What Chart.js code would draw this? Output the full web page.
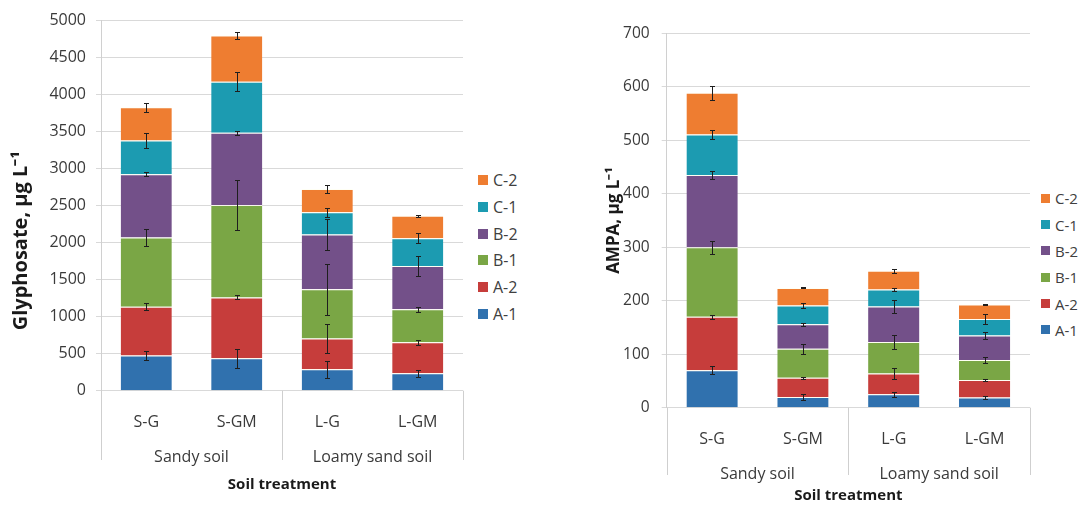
<!DOCTYPE html>
<html>
<head>
<meta charset="utf-8">
<script src="https://cdn.jsdelivr.net/npm/chart.js@4.4.1/dist/chart.umd.min.js"></script>
<style>
  html, body { margin: 0; padding: 0; background: #fff; }
  body { width: 1083px; height: 505px; position: relative; overflow: hidden; font-family: "Open Sans", sans-serif; }
  canvas { position: absolute; top: 0; }
  .legend { position: absolute; margin: 0; padding: 0; list-style: none; color: #404040; }
  .legend li { position: absolute; left: 0; display: flex; align-items: center; white-space: nowrap; transform: translateY(-50%); }
  .legend .sw { display: inline-block; margin-right: 5px; }
</style>
</head>
<body>
<canvas id="glyCanvas" width="470" height="505" style="left:0"></canvas>
<canvas id="ampaCanvas" width="436" height="505" style="left:600px"></canvas>
<ul class="legend" id="glyLegend" style="left:478px; top:0"></ul>
<ul class="legend" id="ampaLegend" style="left:1041px; top:0"></ul>

<script>
// ---- data ----
const categories = ['S-G', 'S-GM', 'L-G', 'L-GM'];
const soilGroups = ['Sandy soil', 'Loamy sand soil'];
const seriesNames = ['A-1', 'A-2', 'B-1', 'B-2', 'C-1', 'C-2'];
const seriesColors = ['#3071AE', '#C63D3B', '#7AA645', '#735089', '#1C9BB1', '#EE7D31'];

// Glyphosate (µg/L), contribution of each layer
const glyA1 = [475, 440, 290, 235];
const glyA2 = [660, 820, 415, 420];
const glyB1 = [935, 1250, 665, 445];
const glyB2 = [855, 975, 740, 585];
const glyC1 = [455, 690, 300, 375];
const glyC2 = [450, 625, 315, 305];
// standard deviations
const glyA1Err = [60, 130, 112, 49];
const glyA2Err = [45, 27, 193, 36];
const glyB1Err = [112, 332, 341, 31];
const glyB2Err = [29, 25, 213, 139];
const glyC1Err = [103, 130, 65, 70];
const glyC2Err = [59, 52, 54, 15];

// AMPA (µg/L)
const ampaA1 = [70, 20, 25, 19];
const ampaA2 = [100, 36, 39, 33];
const ampaB1 = [130, 54, 59, 37];
const ampaB2 = [135, 46, 66, 46];
const ampaC1 = [76, 35, 32, 31];
const ampaC2 = [78, 33, 35, 27];
const ampaA1Err = [7.5, 5, 4.7, 3.4];
const ampaA2Err = [4, 2, 11, 2.5];
const ampaB1Err = [12, 10, 13, 5];
const ampaB2Err = [7, 3, 12.5, 6];
const ampaC1Err = [9, 4.4, 3.7, 8.7];
const ampaC2Err = [13, 1, 3.7, 1.5];

const glyTicksMax = 5000, glyStep = 500;
const ampaTicksMax = 700, ampaStep = 100;

// ---- plugins ----
// error bars on top of each stacked segment
const errorBars = {
  id: 'errorBars',
  afterDatasetsDraw(chart, args, opts) {
    const ctx = chart.ctx, y = chart.scales.y;
    const sets = chart.data.datasets;
    ctx.save();
    ctx.strokeStyle = opts.color;
    ctx.lineWidth = 1;
    sets.forEach((ds, i) => {
      const meta = chart.getDatasetMeta(i);
      ds.data.forEach((v, j) => {
        let top = 0;
        for (let k = 0; k <= i; k++) top += sets[k].data[j];
        const e = ds.errors[j];
        const xc = Math.round(meta.data[j].x) + 0.5;
        const yLo = Math.round(y.getPixelForValue(top - e)) + 0.5;
        const yHi = Math.round(y.getPixelForValue(top + e)) + 0.5;
        ctx.beginPath();
        ctx.moveTo(xc, yLo); ctx.lineTo(xc, yHi);
        ctx.moveTo(xc - opts.cap, yLo); ctx.lineTo(xc + opts.cap, yLo);
        ctx.moveTo(xc - opts.cap, yHi); ctx.lineTo(xc + opts.cap, yHi);
        ctx.stroke();
      });
    });
    ctx.restore();
  }
};

// vertical dividers between the soil groups under the plot
const groupDividers = {
  id: 'groupDividers',
  afterDraw(chart, args, opts) {
    const g = chart.scales.x2, ctx = chart.ctx;
    const n = g.getLabels().length;
    const edges = [g.left];
    for (let i = 0; i < n - 1; i++) edges.push((g.getPixelForValue(i) + g.getPixelForValue(i + 1)) / 2);
    edges.push(g.right);
    ctx.save();
    ctx.strokeStyle = opts.color;
    ctx.lineWidth = 1;
    edges.forEach(px => {
      const xx = Math.round(px) + 0.5;
      ctx.beginPath();
      ctx.moveTo(xx, chart.chartArea.bottom);
      ctx.lineTo(xx, g.top + opts.depth);
      ctx.stroke();
    });
    ctx.restore();
  }
};

Chart.defaults.font.family = '"Open Sans", sans-serif';
Chart.defaults.color = '#3a3a3a';

function buildChart(canvasId, values, errors, geom) {
  const datasets = seriesNames.map((name, i) => ({
    label: name,
    data: values[i],
    errors: errors[i],
    backgroundColor: seriesColors[i],
    borderColor: 'rgba(255,255,240,0.75)',
    borderWidth: { top: 1, right: 0, bottom: 0, left: 0 },
    borderSkipped: false,
    barPercentage: 0.565,
    categoryPercentage: 1
  }));
  return new Chart(document.getElementById(canvasId), {
    type: 'bar',
    data: { labels: categories, datasets },
    options: {
      responsive: false,
      animation: false,
      layout: { padding: { top: geom.top, right: geom.right, bottom: 0, left: 0 } },
      plugins: {
        legend: { display: false },
        tooltip: { enabled: false },
        errorBars: { color: '#1e1e1e', cap: 2.5 },
        groupDividers: { color: '#cfcfcf', depth: geom.dividerDepth }
      },
      scales: {
        y: {
          stacked: true,
          min: 0,
          max: geom.max,
          ticks: {
            stepSize: geom.step,
            padding: geom.tickPad,
            font: { size: geom.tickSize },
            callback: v => String(v)
          },
          grid: { color: '#d9d9d9', tickLength: 5, drawTicks: true },
          border: { display: true, color: '#d0d0d0' },
          title: {
            display: true,
            text: geom.yTitle,
            color: '#1a1a1a',
            font: { size: geom.yTitleSize, weight: 'bold' },
            padding: { top: geom.yTitlePad, bottom: 0 }
          },
          afterFit(s) { s.width = geom.yWidth; }
        },
        x: {
          stacked: true,
          grid: { display: false },
          border: { display: false },
          ticks: { padding: geom.catPad, font: { size: 16 }, maxRotation: 0 },
          afterFit(s) { s.height = geom.catHeight; }
        },
        x2: {
          type: 'category',
          position: 'bottom',
          labels: soilGroups,
          offset: true,
          grid: { display: false },
          border: { display: false },
          ticks: { padding: geom.groupPad, font: { size: 16 }, maxRotation: 0 },
          title: {
            display: true,
            text: 'Soil treatment',
            color: '#1a1a1a',
            font: { size: 15, weight: 'bold' },
            padding: { top: 0, bottom: geom.xTitlePad }
          },
          afterFit(s) { s.height = geom.groupHeight; }
        }
      }
    },
    plugins: [errorBars, groupDividers]
  });
}

function buildLegend(listId, rows) {
  const ul = document.getElementById(listId);
  for (let i = seriesNames.length - 1; i >= 0; i--) {
    const li = document.createElement('li');
    li.style.top = rows.first + (seriesNames.length - 1 - i) * rows.gap + 'px';
    li.style.fontSize = rows.font + 'px';
    const sw = document.createElement('span');
    sw.className = 'sw';
    sw.style.width = rows.box + 'px';
    sw.style.height = rows.box + 'px';
    sw.style.background = seriesColors[i];
    li.appendChild(sw);
    li.appendChild(document.createTextNode(seriesNames[i]));
    ul.appendChild(li);
  }
}

buildChart('glyCanvas',
  [glyA1, glyA2, glyB1, glyB2, glyC1, glyC2],
  [glyA1Err, glyA2Err, glyB1Err, glyB2Err, glyC1Err, glyC2Err],
  {
    top: 20.7, right: 7, max: glyTicksMax, step: glyStep, tickPad: 10, tickSize: 16,
    yTitle: 'Glyphosate, µg L⁻¹\u2003\u2003\u2003\u2002', yTitleSize: 20, yTitlePad: 9, yWidth: 101,
    catPad: 14.4, catHeight: 40, groupPad: 8.7, groupHeight: 74.3, xTitlePad: 11,
    dividerDepth: 29.3
  });

buildChart('ampaCanvas',
  [ampaA1, ampaA2, ampaB1, ampaB2, ampaC1, ampaC2],
  [ampaA1Err, ampaA2Err, ampaB1Err, ampaB2Err, ampaC1Err, ampaC2Err],
  {
    top: 33.3, right: 6, max: ampaTicksMax, step: ampaStep, tickPad: 12, tickSize: 15.5,
    yTitle: 'AMPA, µg L⁻¹', yTitleSize: 17, yTitlePad: 4, yWidth: 66.7,
    catPad: 14.4, catHeight: 40, groupPad: 8.7, groupHeight: 57.3, xTitlePad: 0,
    dividerDepth: 27.3
  });

buildLegend('glyLegend', { first: 180, gap: 26.8, box: 10, font: 16 });
buildLegend('ampaLegend', { first: 198.3, gap: 26.3, box: 9, font: 15 });
</script>
</body>
</html>
